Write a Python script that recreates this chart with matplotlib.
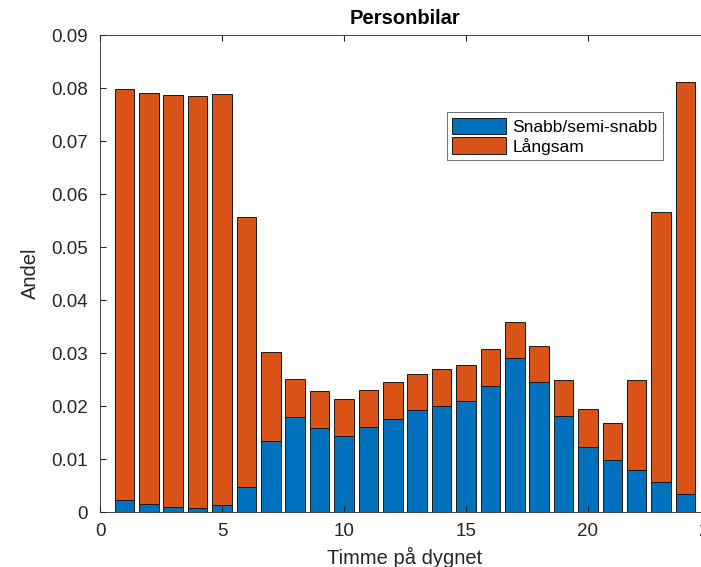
import matplotlib
matplotlib.use("Agg")
import matplotlib.pyplot as plt
import numpy as np

hours = list(range(1, 25))
snabb = [0.0023, 0.0015, 0.0009, 0.0008, 0.0013, 0.0047, 0.0134, 0.0179,
         0.0158, 0.0143, 0.0160, 0.0175, 0.0192, 0.0200, 0.0209, 0.0237,
         0.0290, 0.0245, 0.0181, 0.0123, 0.0098, 0.0079, 0.0057, 0.0034]
total = [0.0798, 0.0791, 0.0787, 0.0785, 0.0789, 0.0557, 0.0302, 0.0251,
         0.0228, 0.0213, 0.0230, 0.0245, 0.0260, 0.0270, 0.0277, 0.0307,
         0.0358, 0.0313, 0.0250, 0.0194, 0.0168, 0.0250, 0.0566, 0.0811]
langsam = [t - s for t, s in zip(total, snabb)]

plt.rcParams["font.family"] = ["Liberation Sans", "DejaVu Sans"]

fig = plt.figure(figsize=(7.01, 5.67), dpi=100)
ax = fig.add_axes([0.1427, 0.097, 0.870, 0.841])

ax.bar(hours, snabb, width=0.8, color="#0072BD", edgecolor="#1a1a1a",
       linewidth=0.7, label="Snabb/semi-snabb")
ax.bar(hours, langsam, width=0.8, bottom=snabb, color="#D95319",
       edgecolor="#1a1a1a", linewidth=0.7, label="Långsam")

ax.set_xlim(0, 25)
ax.set_ylim(0, 0.09)
ax.set_xticks([0, 5, 10, 15, 20, 25])
ax.set_yticks(np.arange(0, 0.0901, 0.01))
ax.set_yticklabels(["0", "0.01", "0.02", "0.03", "0.04", "0.05", "0.06",
                    "0.07", "0.08", "0.09"])
ax.tick_params(direction="in", labelsize=13.5, colors="#262626", length=4,
               top=True, right=True)
ax.tick_params(axis="y", pad=9)
ax.tick_params(axis="x", pad=8)
for side in ("left", "bottom", "top", "right"):
    ax.spines[side].set_color("#262626")
    ax.spines[side].set_linewidth(0.6)

ax.set_xlabel("Timme på dygnet", fontsize=14.5, color="#262626", labelpad=5)
ax.set_ylabel("Andel", fontsize=14.5, color="#262626", labelpad=8)
ax.set_title("Personbilar", fontsize=14.5, fontweight="bold", pad=8)

leg = ax.legend(loc="upper right", bbox_to_anchor=(0.923, 0.838),
                fontsize=12.5, fancybox=False, framealpha=1,
                handlelength=3.1, handleheight=1.1, handletextpad=0.4,
                labelspacing=0.15, borderpad=0.3, borderaxespad=0)
leg.get_frame().set_edgecolor("#5a5a5a")
leg.get_frame().set_linewidth(0.6)

fig.savefig("out.png", dpi=100)
